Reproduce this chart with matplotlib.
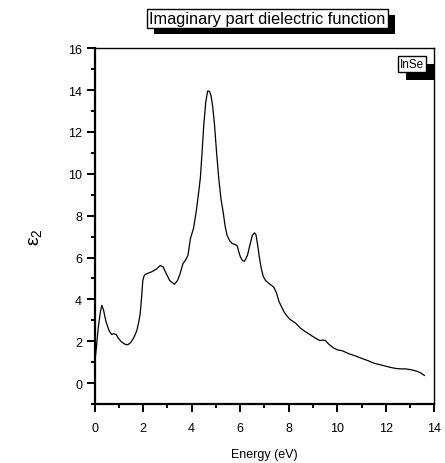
import numpy as np
import matplotlib
matplotlib.use("Agg")
import matplotlib.pyplot as plt
from matplotlib.ticker import MultipleLocator
from matplotlib.patches import Rectangle

plt.rcParams["font.family"] = ["Liberation Sans", "DejaVu Sans"]
plt.rcParams["mathtext.fontset"] = "custom"
plt.rcParams["mathtext.rm"] = "Liberation Sans"

# photon energy (eV) and imaginary part of dielectric function
energy = [0.0, 0.06, 0.15, 0.24, 0.30, 0.37, 0.47, 0.60, 0.71, 0.78,
          0.89, 0.98, 1.10, 1.25, 1.37, 1.50, 1.63, 1.74, 1.81, 1.88,
          1.94, 1.99, 2.04, 2.09, 2.20, 2.36, 2.55, 2.71, 2.83, 2.95,
          3.10, 3.29, 3.42, 3.53, 3.64, 3.75, 3.85, 3.95, 4.08, 4.19,
          4.30, 4.36, 4.43, 4.50, 4.58, 4.66, 4.73, 4.80, 4.87, 4.94,
          5.03, 5.12, 5.21, 5.30, 5.38, 5.46, 5.57, 5.67, 5.80, 5.88,
          5.95, 6.01, 6.10, 6.18, 6.30, 6.40, 6.50, 6.59, 6.65, 6.72,
          6.80, 6.87, 6.95, 7.05, 7.20, 7.39, 7.50, 7.60, 7.80, 7.90,
          8.05, 8.29, 8.49, 8.70, 8.90, 9.10, 9.29, 9.40, 9.52, 9.66,
          9.85, 10.0, 10.20, 10.49, 10.75, 10.97, 11.25, 11.52, 11.9,
          12.20, 12.42, 12.62, 12.83, 13.05, 13.31, 13.45, 13.59]
eps2 = [0.90, 1.50, 2.60, 3.40, 3.72, 3.50, 2.95, 2.50, 2.32, 2.36,
        2.33, 2.15, 1.98, 1.86, 1.83, 1.95, 2.20, 2.50, 2.85, 3.30,
        4.10, 4.90, 5.12, 5.19, 5.25, 5.32, 5.45, 5.62, 5.55, 5.24,
        4.90, 4.72, 4.90, 5.24, 5.70, 5.88, 6.10, 6.90, 7.40, 8.20,
        9.20, 9.80, 11.00, 12.30, 13.40, 13.95, 13.95, 13.73, 13.20, 12.40,
        11.00, 9.76, 8.80, 8.17, 7.50, 7.06, 6.80, 6.67, 6.62, 6.56,
        6.25, 6.03, 5.85, 5.82, 6.10, 6.59, 7.05, 7.18, 7.10, 6.60,
        5.95, 5.48, 5.10, 4.90, 4.75, 4.58, 4.30, 3.90, 3.42, 3.25,
        3.05, 2.86, 2.62, 2.45, 2.30, 2.15, 2.03, 2.06, 2.03, 1.85,
        1.68, 1.59, 1.55, 1.40, 1.30, 1.20, 1.08, 0.95, 0.84,
        0.75, 0.70, 0.68, 0.68, 0.64, 0.56, 0.48, 0.37]


def boxed_text(fig, x, y, text, size):
    return fig.text(x, y, text, fontsize=size, color="black", ha="center",
                    va="center", zorder=5,
                    bbox=dict(boxstyle="square,pad=0.15", fc="white",
                              ec="black", lw=1.0))


def add_shadow(fig, txt, dx, dy, clip_right=None):
    # black drop shadow behind the white box, in figure pixels
    ext = txt.get_bbox_patch().get_window_extent()
    x0 = ext.x0 + dx
    x1 = ext.x1 + dx
    if clip_right is not None:
        x1 = min(x1, clip_right)
    fig.patches.append(Rectangle((x0, ext.y0 - dy), x1 - x0, ext.height,
                                 transform=None, fc="black", ec="none",
                                 zorder=4))


fig = plt.figure(figsize=(4.45, 4.64), dpi=100)
ax = fig.add_axes([0.2124, 0.127, 0.7636, 0.767])

ax.plot(energy, eps2, color="black", lw=0.9)

ax.set_xlim(0, 14)
ax.set_ylim(-1, 16)
ax.xaxis.set_major_locator(MultipleLocator(2))
ax.xaxis.set_minor_locator(MultipleLocator(1))
ax.yaxis.set_major_locator(MultipleLocator(2))
ax.yaxis.set_minor_locator(MultipleLocator(1))
ax.tick_params(which="both", direction="out", top=False, right=False,
               labelsize=9, width=1.4)
ax.tick_params(which="major", length=6)
ax.tick_params(which="minor", length=3)
ax.tick_params(axis="x", which="major", pad=7)
ax.tick_params(axis="y", which="major", pad=3)
ax.spines["left"].set_linewidth(1.6)
ax.spines["bottom"].set_linewidth(1.6)
ax.spines["top"].set_linewidth(1.0)
ax.spines["right"].set_linewidth(1.0)

ax.set_xlabel("Energy (eV)", fontsize=9, labelpad=10)
fig.text(0.082, 0.49, "ε$_2$", fontsize=14, rotation=90,
         ha="center", va="center")

title = boxed_text(fig, 0.6012, 0.958, "Imaginary part dielectric function", 11.8)
legend = boxed_text(fig, 0.926, 0.860, "InSe", 8.5)

fig.canvas.draw()
add_shadow(fig, title, 7, 6)
add_shadow(fig, legend, 8, 8, clip_right=434)

fig.savefig("out.png", dpi=100)
